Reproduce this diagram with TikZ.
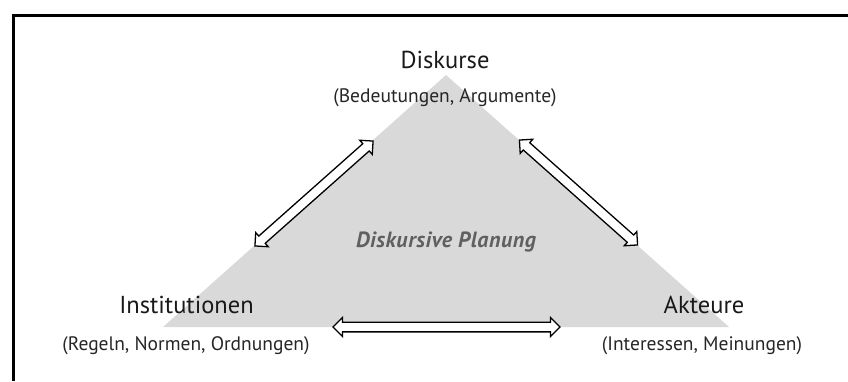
\documentclass[tikz,border=0pt]{standalone}
\usepackage{fontspec}
\setmainfont{PT Sans}
\usetikzlibrary{shapes.arrows}
\definecolor{trigray}{HTML}{D9D9D9}
\definecolor{labelgray}{HTML}{606060}
\tikzset{
  title/.style={font=\fontsize{24.5}{28}\selectfont, inner sep=0pt, anchor=base, text=black!90},
  sub/.style={font=\fontsize{19.5}{22}\selectfont, inner sep=0pt, anchor=base, text=black!85},
  link/.style={double arrow, draw=black, fill=white, line width=1.3pt,
    minimum width=0pt, inner xsep=0pt, inner ysep=4.2pt,
    double arrow head extend=4.6pt, double arrow tip angle=90},
  frameline/.style={line width=3pt, black}
}
\begin{document}
\begin{tikzpicture}[x=1pt, y=-1pt]
  \useasboundingbox (0,0) rectangle (848,381);
  % frame (top and left edges)
  \draw[frameline] (848,15) -- (13.5,15) -- (13.5,381);
  % grey triangle
  \fill[trigray] (446,75) -- (729,327) -- (163,327) -- cycle;
  % labels
  \node[title] (disk) at (445,68) {Diskurse};
  \node[sub] (diskSub) at (445,102) {(Bedeutungen, Argumente)};
  \node[title] (inst) at (186.5,313) {Institutionen};
  \node[sub] (instSub) at (186,350) {(Regeln, Normen, Ordnungen)};
  \node[title] (akt) at (704,313) {Akteure};
  \node[sub] (aktSub) at (702,350) {(Interessen, Meinungen)};
  \node[font=\fontsize{22}{26}\selectfont\itshape\bfseries\addfontfeature{LetterSpace=2.5},
    text=labelgray, inner sep=0pt, anchor=base] (plan) at (446,247) {Diskursive Planung};
  % double arrows between the three poles
  \node[link, minimum height=158pt, rotate=41.6] (aLeft) at (314,193.5) {};
  \node[link, minimum height=158pt, rotate=-41.6] (aRight) at (578.5,192.5) {};
  \node[link, minimum height=227pt] (aBottom) at (446.5,327) {};
\end{tikzpicture}
\end{document}
